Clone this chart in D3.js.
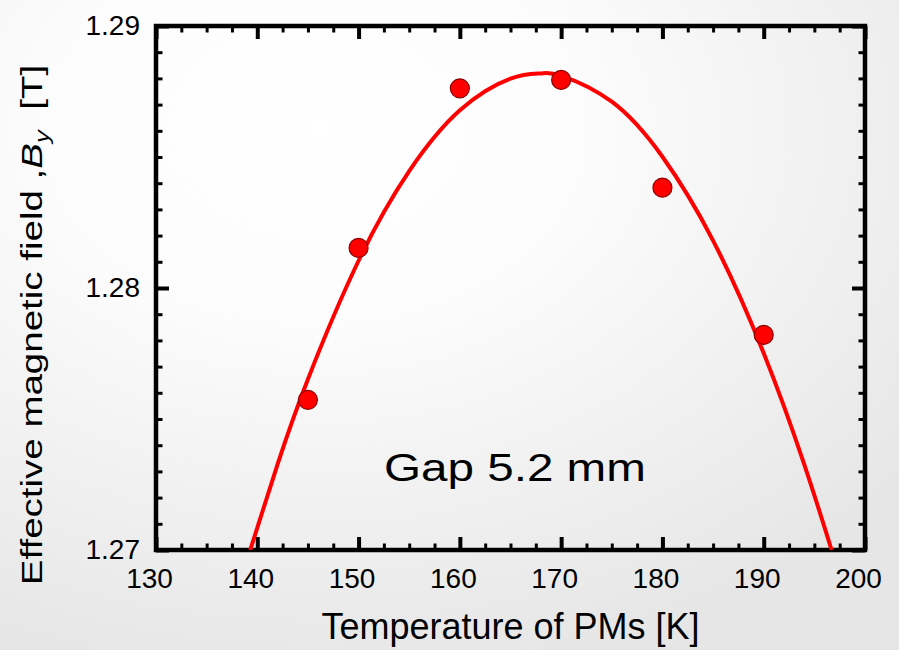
<!DOCTYPE html>
<html>
<head>
<meta charset="utf-8">
<script src="https://cdn.jsdelivr.net/npm/d3@7"></script>
<style>
  body { margin: 0; background: #fff; }
  svg { display: block; font-family: "Liberation Sans", Arial, sans-serif; }
</style>
</head>
<body>
<svg id="chart"></svg>
<script>
// Data
const tempK = [145, 150, 160, 170, 180, 190];
const fieldT = [1.27573, 1.28153, 1.28762, 1.28794, 1.28383, 1.27821];

// fitted curve
const fitTemp = [139.3, 142, 145, 150, 155, 160, 165, 168, 170, 175, 180, 185, 190, 194, 196.7];
const fitField = [1.2700, 1.27327, 1.27652, 1.28104, 1.28446, 1.28678, 1.28799, 1.28819, 1.28810, 1.28711, 1.28501, 1.28181, 1.27751, 1.27327, 1.2700];

const xTicks = [130, 140, 150, 160, 170, 180, 190, 200];
const yTicks = [1.27, 1.28, 1.29];

// Configuration
const W = 899, H = 650;
const plot = { left: 156, right: 865, top: 26, bottom: 550 };

const svg = d3.select("#chart").attr("width", W).attr("height", H);

// Background
const defs = svg.append("defs");
const grad = defs.append("radialGradient")
    .attr("id", "bg").attr("cx", "35%").attr("cy", "20%").attr("r", "85%");
grad.append("stop").attr("offset", "0%").attr("stop-color", "#ffffff");
grad.append("stop").attr("offset", "35%").attr("stop-color", "#fcfcfc");
grad.append("stop").attr("offset", "100%").attr("stop-color", "#e6e6e6");
svg.append("rect").attr("width", W).attr("height", H).attr("fill", "url(#bg)");

defs.append("clipPath").attr("id", "clip").append("rect")
    .attr("x", plot.left).attr("y", plot.top)
    .attr("width", plot.right - plot.left).attr("height", plot.bottom - plot.top);

// Scales
const x = d3.scaleLinear().domain([130, 200]).range([plot.left, plot.right]);
const y = d3.scaleLinear().domain([1.27, 1.29]).range([plot.bottom, plot.top]);

const xMinor = d3.range(130, 200.01, 2.5).filter(v => v % 10 !== 0);
const yMinor = d3.range(0, 21).map(i => 1.27 + i * 0.001).filter((v, i) => i % 10 !== 0);

function styleTicks(g, w) {
    g.select(".domain").remove();
    g.selectAll(".tick line").attr("stroke", "#000").attr("stroke-width", w);
}

// Axes
function drawAxes() {
    const tickFont = "28px";

    // bottom
    svg.append("g").attr("transform", `translate(0,${plot.bottom})`)
        .call(d3.axisBottom(x).tickValues(xMinor).tickSize(-6.5).tickFormat(""))
        .call(g => styleTicks(g, 3));
    svg.append("g").attr("transform", `translate(0,${plot.bottom})`)
        .call(d3.axisBottom(x).tickValues(xTicks).tickSize(-13).tickPadding(18).tickFormat(d3.format("d")))
        .call(g => styleTicks(g, 4))
        .call(g => g.selectAll("text").attr("fill", "#000").attr("font-size", tickFont)
            .attr("font-family", "Liberation Sans, Arial, sans-serif").attr("dx", -7));

    // top
    svg.append("g").attr("transform", `translate(0,${plot.top})`)
        .call(d3.axisTop(x).tickValues(xMinor).tickSize(-6.5).tickFormat(""))
        .call(g => styleTicks(g, 3));
    svg.append("g").attr("transform", `translate(0,${plot.top})`)
        .call(d3.axisTop(x).tickValues(xTicks).tickSize(-13).tickFormat(""))
        .call(g => styleTicks(g, 4));

    // left
    svg.append("g").attr("transform", `translate(${plot.left},0)`)
        .call(d3.axisLeft(y).tickValues(yMinor).tickSize(-6.5).tickFormat(""))
        .call(g => styleTicks(g, 3));
    svg.append("g").attr("transform", `translate(${plot.left},0)`)
        .call(d3.axisLeft(y).tickValues(yTicks).tickSize(-13).tickPadding(16).tickFormat(d3.format(".2f")))
        .call(g => styleTicks(g, 4))
        .call(g => g.selectAll("text").attr("fill", "#000").attr("font-size", tickFont)
            .attr("font-family", "Liberation Sans, Arial, sans-serif"));

    // right
    svg.append("g").attr("transform", `translate(${plot.right},0)`)
        .call(d3.axisRight(y).tickValues(yMinor).tickSize(-6.5).tickFormat(""))
        .call(g => styleTicks(g, 3));
    svg.append("g").attr("transform", `translate(${plot.right},0)`)
        .call(d3.axisRight(y).tickValues(yTicks).tickSize(-13).tickFormat(""))
        .call(g => styleTicks(g, 4));

    // frame
    svg.append("rect")
        .attr("x", plot.left).attr("y", plot.top)
        .attr("width", plot.right - plot.left).attr("height", plot.bottom - plot.top)
        .attr("fill", "none").attr("stroke", "#000").attr("stroke-width", 4.5);
}

// Fit line + points
function drawData() {
    const line = d3.line()
        .x((d, i) => x(fitTemp[i]))
        .y(d => y(d))
        .curve(d3.curveNatural);

    svg.append("path")
        .datum(fitField)
        .attr("clip-path", "url(#clip)")
        .attr("d", line)
        .attr("fill", "none")
        .attr("stroke", "#ff0000")
        .attr("stroke-width", 4);

    svg.append("g").selectAll("circle")
        .data(tempK)
        .join("circle")
        .attr("cx", d => x(d))
        .attr("cy", (d, i) => y(fieldT[i]))
        .attr("r", 9.5)
        .attr("fill", "#ff0000")
        .attr("stroke", "#8b0000")
        .attr("stroke-width", 1.2);
}

// stretch a text element horizontally to a target width
function stretch(sel, target) {
    const w = sel.node().getComputedTextLength();
    return target / w;
}

function drawLabels() {
    // x title
    svg.append("text")
        .attr("x", (plot.left + plot.right) / 2).attr("y", 639)
        .attr("text-anchor", "middle")
        .attr("font-size", "36px")
        .text("Temperature of PMs [K]");

    // y title
    const yt = svg.append("text")
        .attr("text-anchor", "middle")
        .attr("font-size", "30px");
    yt.append("tspan").text("Effective magnetic field ,");
    yt.append("tspan").attr("font-style", "italic").text("B");
    yt.append("tspan").attr("font-style", "italic").attr("font-size", "20px").attr("dy", 7).text("y");
    yt.append("tspan").attr("dy", -7).attr("dx", 16).text("[T]");
    const sy = stretch(yt, 500);
    yt.attr("transform", `translate(42,325) rotate(-90) scale(${sy},1)`);

    // annotation
    const gap = svg.append("text")
        .attr("font-size", "38px")
        .text("Gap 5.2 mm");
    const sg = stretch(gap, 262);
    gap.attr("transform", `translate(384,481) scale(${sg},1)`);
}

drawAxes();
drawData();
drawLabels();
</script>
</body>
</html>
